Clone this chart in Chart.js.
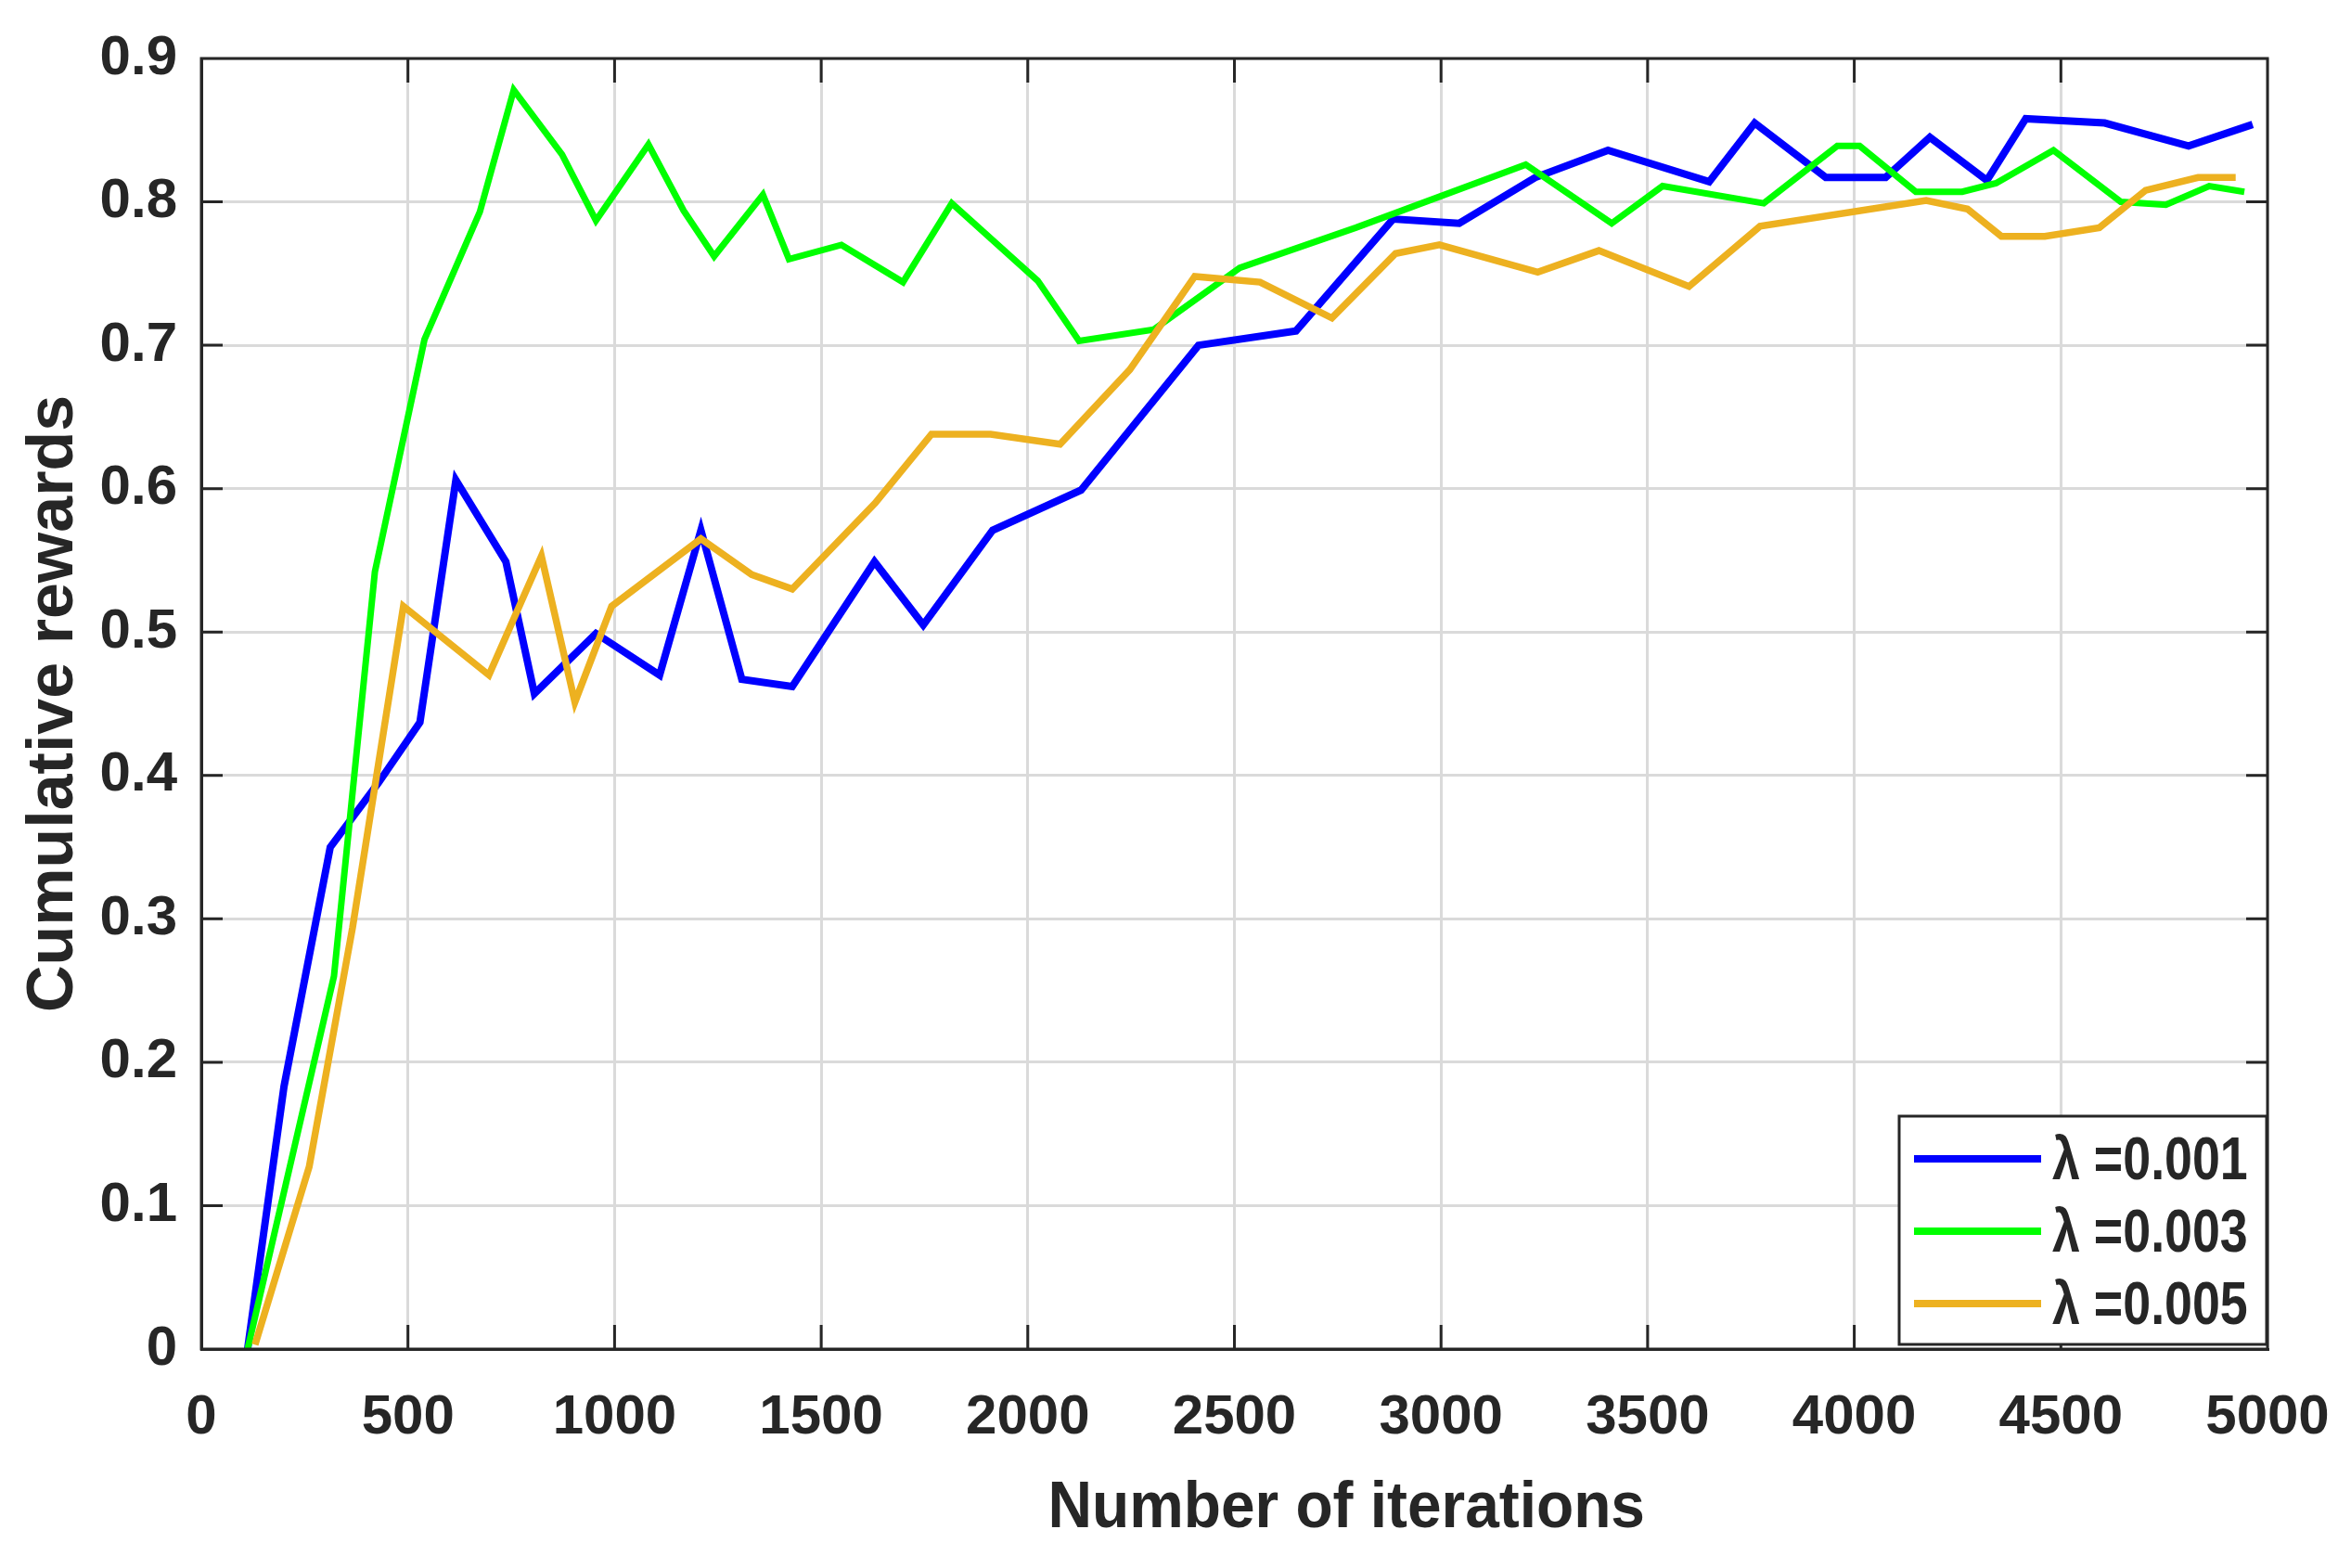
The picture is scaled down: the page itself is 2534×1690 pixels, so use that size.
<!DOCTYPE html>
<html>
<head>
<meta charset="utf-8">
<script src="https://cdn.jsdelivr.net/npm/chart.js@4.4.0/dist/chart.umd.min.js"></script>
<style>
  html, body { margin: 0; padding: 0; background: #ffffff; }
  #wrap { width: 2534px; height: 1690px; }
</style>
</head>
<body>
<div id="wrap"><canvas id="chart1" width="2534" height="1690"></canvas></div>
<script>
// donnees
var seriesNames = ["λ =0.001", "λ =0.003", "λ =0.005"];
var seriesColors = ["#0000ff", "#00ff00", "#edb120"];

var iterBlue = [112, 200, 312, 429, 529, 616, 737, 806, 955, 1109, 1209, 1308, 1430, 1629, 1747, 1915, 2129, 2413, 2649, 2884, 3044, 3228, 3404, 3649, 3759, 3931, 4076, 4183, 4321, 4415, 4606, 4809, 4964];
var rewardBlue = [0, 0.183, 0.350, 0.395, 0.437, 0.606, 0.549, 0.457, 0.499, 0.470, 0.571, 0.467, 0.462, 0.549, 0.505, 0.571, 0.599, 0.700, 0.710, 0.788, 0.785, 0.817, 0.836, 0.814, 0.855, 0.817, 0.817, 0.845, 0.815, 0.858, 0.855, 0.839, 0.854];

var iterGreen = [112, 321, 420, 540, 674, 756, 873, 955, 1082, 1167, 1241, 1359, 1422, 1549, 1698, 1816, 2024, 2124, 2305, 2513, 2794, 3205, 3413, 3536, 3781, 3959, 4013, 4149, 4261, 4343, 4482, 4645, 4754, 4859, 4944];
var rewardGreen = [0, 0.26, 0.542, 0.704, 0.793, 0.878, 0.833, 0.787, 0.840, 0.794, 0.762, 0.805, 0.760, 0.770, 0.744, 0.799, 0.745, 0.703, 0.711, 0.754, 0.782, 0.826, 0.785, 0.811, 0.799, 0.839, 0.839, 0.807, 0.807, 0.813, 0.836, 0.800, 0.798, 0.811, 0.807];

var iterOrange = [130, 261, 366, 489, 696, 823, 904, 993, 1209, 1332, 1430, 1631, 1767, 1910, 2078, 2247, 2404, 2562, 2736, 2890, 2996, 3234, 3382, 3600, 3772, 4174, 4274, 4356, 4461, 4593, 4705, 4832, 4923];
var rewardOrange = [0.003, 0.127, 0.294, 0.518, 0.470, 0.553, 0.451, 0.518, 0.565, 0.540, 0.530, 0.590, 0.638, 0.638, 0.631, 0.683, 0.748, 0.744, 0.719, 0.764, 0.770, 0.751, 0.766, 0.741, 0.783, 0.801, 0.795, 0.776, 0.776, 0.782, 0.808, 0.817, 0.817];

var xTicks = [0, 500, 1000, 1500, 2000, 2500, 3000, 3500, 4000, 4500, 5000];
var yTicks = [0, 0.1, 0.2, 0.3, 0.4, 0.5, 0.6, 0.7, 0.8, 0.9];
var xTitle = "Number of iterations";
var yTitle = "Cumulative rewards";

var textColor = "#262626";
var fontName = "'Liberation Sans', Arial, sans-serif";

function toPoints(xs, ys){
    var pts = [];
    for (var i = 0; i < xs.length; i++){
        pts.push({x: xs[i], y: ys[i]});
    }
    return pts;
};

var allX = [iterBlue, iterGreen, iterOrange];
var allY = [rewardBlue, rewardGreen, rewardOrange];
var widths = [8, 7, 7.5];
var datasets = [];
for (var s = 0; s < seriesNames.length; s++){
    datasets.push({
        label: seriesNames[s],
        data: toPoints(allX[s], allY[s]),
        borderColor: seriesColors[s],
        backgroundColor: seriesColors[s],
        borderWidth: widths[s],
        pointRadius: 0,
        tension: 0,
        fill: false,
        // la derniere courbe tracee passe dessus, comme dans matlab
        order: seriesNames.length - s
    });
}

// texte un peu serre comme dans la figure matlab
function narrowText(c, txt, x, y, sx){
    c.save();
    c.translate(x, y);
    c.scale(sx, 1);
    c.fillText(txt, 0, 0);
    c.restore();
};

// cadre, graduations interieures, titre x et legende
const boxPlugin = {
    id: 'boxPlugin',
    afterDraw(chart){
        const c = chart.ctx;
        const a = chart.chartArea;
        const sx = chart.scales.x;
        const sy = chart.scales.y;
        c.save();
        c.strokeStyle = textColor;
        c.lineWidth = 3;
        // graduations
        c.beginPath();
        xTicks.forEach(function(v){
            if (v == 0 || v == 5000) return;
            const px = sx.getPixelForValue(v);
            c.moveTo(px, a.bottom); c.lineTo(px, a.bottom - 26);
            c.moveTo(px, a.top); c.lineTo(px, a.top + 26);
        });
        yTicks.forEach(function(v){
            if (v == 0 || v == 0.9) return;
            const py = sy.getPixelForValue(v);
            c.moveTo(a.left, py); c.lineTo(a.left + 23, py);
            c.moveTo(a.right, py); c.lineTo(a.right - 23, py);
        });
        c.stroke();
        c.strokeRect(a.left, a.top, a.right - a.left, a.bottom - a.top);

        // titre x
        c.fillStyle = textColor;
        c.font = "bold 70px " + fontName;
        c.textBaseline = "middle";
        c.textAlign = "center";
        narrowText(c, xTitle, sx.getPixelForValue(2771), 1627, 0.94);

        // legende
        const w = 396, h = 246;
        const lx = a.right - w - 1, ly = a.bottom - h - 5;
        c.fillStyle = "#ffffff";
        c.fillRect(lx, ly, w, h);
        c.strokeRect(lx, ly, w, h);
        c.font = "bold 64px " + fontName;
        c.textAlign = "left";
        for (var i = 0; i < seriesNames.length; i++){
            const yy = ly + 46 + i * 78;
            c.strokeStyle = seriesColors[i];
            c.lineWidth = 8;
            c.beginPath();
            c.moveTo(lx + 16, yy); c.lineTo(lx + 153, yy);
            c.stroke();
            c.fillStyle = textColor;
            narrowText(c, seriesNames[i], lx + 165, yy + 4, 0.84);
        }
        c.restore();
    }
};

ctx = document.getElementById('chart1').getContext('2d');

const myChart = new Chart(ctx, {
    type: 'line',
    data: { datasets: datasets },
    options: {
        responsive: false,
        animation: false,
        layout: { padding: { left: 0, right: 90, top: 63, bottom: 0 } },
        plugins: {
            legend: { display: false },
            tooltip: { enabled: false }
        },
        scales: {
            x: {
                type: 'linear',
                min: 0,
                max: 5000,
                afterFit: function(scale){
                    scale.height = 236;
                    scale.paddingLeft = 0;
                    scale.paddingRight = 0;
                },
                afterBuildTicks: function(scale){ scale.ticks = xTicks.map(function(v){ return {value: v}; }); },
                ticks: {
                    color: textColor,
                    padding: 38,
                    maxRotation: 0,
                    font: { family: fontName, size: 60, weight: 'bold' },
                    callback: function(v){ return String(v); }
                },
                grid: { color: "#dadada", lineWidth: 3, drawTicks: false },
                border: { color: textColor, width: 3 }
            },
            y: {
                min: 0,
                max: 0.9,
                afterFit: function(scale){
                    scale.width = 217;
                    scale.paddingTop = 0;
                    scale.paddingBottom = 0;
                },
                afterBuildTicks: function(scale){ scale.ticks = yTicks.map(function(v){ return {value: v}; }); },
                ticks: {
                    color: textColor,
                    padding: 26,
                    font: { family: fontName, size: 60, weight: 'bold' },
                    callback: function(v){ return String(Math.round(v * 10) / 10); }
                },
                grid: { color: "#dadada", lineWidth: 3, drawTicks: false },
                border: { color: textColor, width: 3 },
                title: {
                    display: true,
                    text: yTitle,
                    color: textColor,
                    font: { family: fontName, size: 70, weight: 'bold' },
                    padding: { top: 17, bottom: 0 }
                }
            }
        }
    },
    plugins: [boxPlugin]
});
</script>
</body>
</html>
